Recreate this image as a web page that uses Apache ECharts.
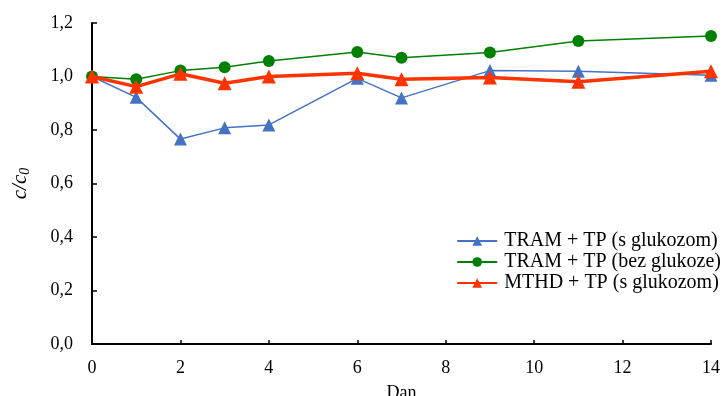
<!DOCTYPE html>
<html><head><meta charset="utf-8">
<script src="https://cdn.jsdelivr.net/npm/echarts@6/dist/echarts.min.js"></script>
<style>html,body{margin:0;padding:0;background:#fff}#c{width:727px;height:396px}</style>
</head><body><div id="c"></div>
<script>
const days = [0, 1, 2, 3, 4, 6, 7, 9, 11, 14];
const tramS = [1.0, 0.922, 0.766, 0.808, 0.819, 0.993, 0.92, 1.022, 1.02, 1.005];
const tramBez = [1.0, 0.99, 1.022, 1.035, 1.058, 1.092, 1.07, 1.09, 1.133, 1.151];
const mthdS = [1.0, 0.962, 1.01, 0.975, 1.0, 1.012, 0.99, 0.996, 0.98, 1.02];
const names = ['TRAM + TP (s glukozom)', 'TRAM + TP (bez glukoze)', 'MTHD + TP (s glukozom)'];
const font = 'Liberation Serif';
const pair = (arr) => days.map((d, i) => [d, arr[i]]);
const chart = echarts.init(document.getElementById('c'));
chart.setOption({
  animation: false,
  grid: {left: 92, right: 16, top: 23, bottom: 52, containLabel: false, outerBoundsMode: 'none'},
  legend: {
    orient: 'vertical', right: 1, top: 226, itemGap: 1, itemWidth: 40, itemHeight: 12,
    textStyle: {fontFamily: font, fontSize: 20, color: '#000', padding: [0, 0, 0, 2]},
    data: names
  },
  xAxis: {
    type: 'value', min: 0, max: 14, interval: 2,
    name: 'Dan', nameLocation: 'middle', nameGap: 40,
    nameTextStyle: {fontFamily: font, fontSize: 18, color: '#000'},
    axisLine: {lineStyle: {color: '#000', width: 2}},
    axisTick: {inside: true, length: 4, lineStyle: {color: '#000', width: 1.5}},
    axisLabel: {fontFamily: font, fontSize: 18, color: '#000', margin: 15},
    splitLine: {show: false}
  },
  yAxis: {
    type: 'value', min: 0, max: 1.2, interval: 0.2,
    name: '{i|c/c}{s|0}', nameLocation: 'middle', nameGap: 60, nameRotate: 90,
    nameTextStyle: {rich: {
      i: {fontFamily: font, fontStyle: 'italic', fontSize: 21, color: '#000'},
      s: {fontFamily: font, fontStyle: 'italic', fontSize: 14, color: '#000', padding: [10, 0, 0, 0]}
    }},
    axisLine: {show: true, lineStyle: {color: '#000', width: 2}},
    axisTick: {show: true, inside: true, length: 5, lineStyle: {color: '#000', width: 1.5}},
    axisLabel: {fontFamily: font, fontSize: 18, color: '#000', margin: 19,
      formatter: v => v.toFixed(1).replace('.', ',')},
    splitLine: {show: false}
  },
  series: [
    {name: names[0], type: 'line', data: pair(tramS), symbol: 'triangle', symbolSize: 13,
     itemStyle: {color: '#4472C4'}, lineStyle: {color: '#4472C4', width: 1.5}, z: 2},
    {name: names[1], type: 'line', data: pair(tramBez), symbol: 'circle', symbolSize: 12,
     itemStyle: {color: '#008000'}, lineStyle: {color: '#008000', width: 1.5}, z: 3},
    {name: names[2], type: 'line', data: pair(mthdS), symbol: 'triangle', symbolSize: 14,
     itemStyle: {color: '#FF3300'}, lineStyle: {color: '#FF3300', width: 3.5}, z: 4}
  ]
});
</script></body></html>
